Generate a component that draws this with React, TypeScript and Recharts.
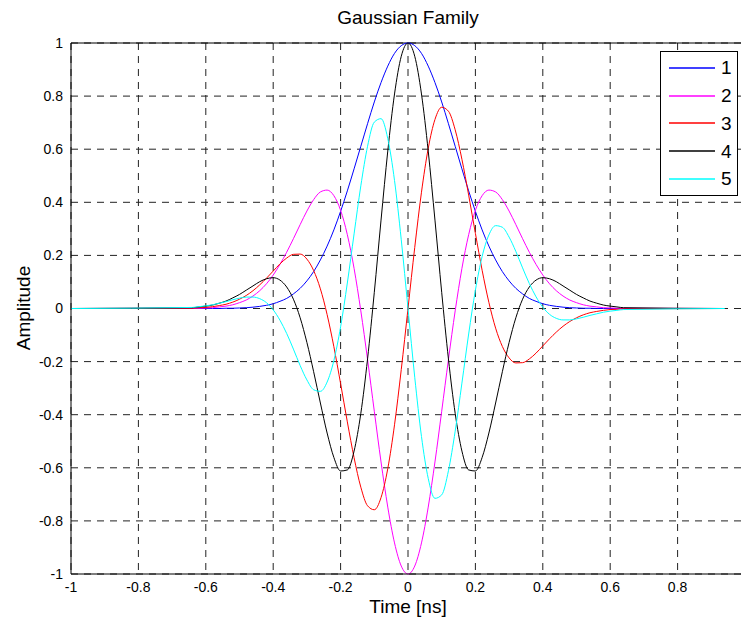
import { LineChart, Line, XAxis, YAxis, CartesianGrid, ReferenceLine } from "recharts";

/* ── time axis (ns) ── */
const time = [
  -1, -0.64, -0.62, -0.6, -0.58, -0.56, -0.54, -0.52, -0.5, -0.48, -0.46, -0.44, -0.42, -0.4, -0.38, -0.36, -0.34,
  -0.32, -0.3, -0.28, -0.26, -0.24, -0.22, -0.2, -0.18, -0.16, -0.14, -0.12, -0.1, -0.08, -0.06, -0.04, -0.02,
  0, 0.02, 0.04, 0.06, 0.08, 0.1, 0.12, 0.14, 0.16, 0.18, 0.2, 0.22, 0.24, 0.26, 0.28, 0.3, 0.32,
  0.34, 0.36, 0.38, 0.4, 0.42, 0.44, 0.46, 0.48, 0.5, 0.52, 0.54, 0.56, 0.58, 0.6, 0.62, 0.64, 0.94,
];

/* ── amplitudes, one array per curve ── */
const pulse1 = [
  0, 0, 0, 0, 0, 0, 0.001, 0.001, 0.002, 0.003, 0.005, 0.008, 0.012, 0.018, 0.027, 0.038, 0.055,
  0.076, 0.104, 0.139, 0.183, 0.235, 0.296, 0.366, 0.443, 0.526, 0.611, 0.696, 0.778, 0.851, 0.913, 0.961, 0.99,
  1, 0.99, 0.961, 0.913, 0.851, 0.778, 0.696, 0.611, 0.526, 0.443, 0.366, 0.296, 0.235, 0.183, 0.139, 0.104, 0.076,
  0.055, 0.038, 0.027, 0.018, 0.012, 0.008, 0.005, 0.003, 0.002, 0.001, 0.001, 0, 0, 0, 0, 0, 0,
];

const pulse2 = [
  0, 0.001, 0.001, 0.002, 0.003, 0.006, 0.009, 0.014, 0.022, 0.032, 0.047, 0.067, 0.093, 0.126, 0.166, 0.212, 0.263,
  0.316, 0.367, 0.41, 0.439, 0.446, 0.425, 0.37, 0.278, 0.151, -0.009, -0.192, -0.387, -0.578, -0.748, -0.883, -0.97,
  -1, -0.97, -0.883, -0.748, -0.578, -0.387, -0.192, -0.009, 0.151, 0.278, 0.37, 0.425, 0.446, 0.439, 0.41, 0.367, 0.316,
  0.263, 0.212, 0.166, 0.126, 0.093, 0.067, 0.047, 0.032, 0.022, 0.014, 0.009, 0.006, 0.003, 0.002, 0.001, 0.001, 0,
];

const pulse3 = [
  0, 0.001, 0.003, 0.004, 0.007, 0.011, 0.016, 0.024, 0.035, 0.049, 0.067, 0.089, 0.114, 0.141, 0.168, 0.19, 0.204,
  0.205, 0.186, 0.143, 0.074, -0.023, -0.144, -0.283, -0.427, -0.562, -0.673, -0.743, -0.758, -0.712, -0.603, -0.438, -0.23,
  0, 0.23, 0.438, 0.603, 0.712, 0.758, 0.743, 0.673, 0.562, 0.427, 0.283, 0.144, 0.023, -0.074, -0.143, -0.186, -0.205,
  -0.204, -0.19, -0.168, -0.141, -0.114, -0.089, -0.067, -0.049, -0.035, -0.024, -0.016, -0.011, -0.007, -0.004, -0.003, -0.001, 0,
];

const pulse4 = [
  0, 0.003, 0.006, 0.009, 0.013, 0.02, 0.028, 0.04, 0.053, 0.069, 0.085, 0.101, 0.112, 0.116, 0.107, 0.081, 0.035,
  -0.035, -0.128, -0.238, -0.356, -0.469, -0.561, -0.612, -0.608, -0.537, -0.395, -0.19, 0.061, 0.333, 0.593, 0.808, 0.95,
  1, 0.95, 0.808, 0.593, 0.333, 0.061, -0.19, -0.395, -0.537, -0.608, -0.612, -0.561, -0.469, -0.356, -0.238, -0.128, -0.035,
  0.035, 0.081, 0.107, 0.116, 0.112, 0.101, 0.085, 0.069, 0.053, 0.04, 0.028, 0.02, 0.013, 0.009, 0.006, 0.003, 0,
];

const pulse5 = [
  0, 0.004, 0.007, 0.01, 0.014, 0.02, 0.026, 0.033, 0.039, 0.043, 0.043, 0.037, 0.022, -0.005, -0.044, -0.094, -0.153,
  -0.215, -0.269, -0.306, -0.312, -0.277, -0.196, -0.069, 0.096, 0.281, 0.462, 0.611, 0.702, 0.715, 0.64, 0.482, 0.259,
  0, -0.259, -0.482, -0.64, -0.715, -0.702, -0.611, -0.462, -0.281, -0.096, 0.069, 0.196, 0.277, 0.312, 0.306, 0.269, 0.215,
  0.153, 0.094, 0.044, 0.005, -0.022, -0.037, -0.043, -0.043, -0.039, -0.033, -0.026, -0.02, -0.014, -0.01, -0.007, -0.004, 0,
];

const seriesNames = ["1", "2", "3", "4", "5"];
const seriesColors = ["#0000ff", "#ff00ff", "#ff0000", "#000000", "#00ffff"];
const xTicks = [-1, -0.8, -0.6, -0.4, -0.2, 0, 0.2, 0.4, 0.6, 0.8];
const yTicks = [-1, -0.8, -0.6, -0.4, -0.2, 0, 0.2, 0.4, 0.6, 0.8, 1];

const allSeries = [pulse1, pulse2, pulse3, pulse4, pulse5];
const data = time.map((t, i) => {
  const row: Record<string, number> = { t };
  allSeries.forEach((s, j) => {
    row[`s${j + 1}`] = s[i];
  });
  return row;
});

const FONT = '"Liberation Sans", Arial, Helvetica, sans-serif';

/* ── legend box like matlab's ── */
function LegendBox() {
  return (
    <div
      style={{
        position: "absolute",
        left: 660,
        top: 51,
        width: 78,
        height: 145,
        boxSizing: "border-box",
        border: "1px solid #000",
        background: "#fff",
        paddingTop: 2,
        fontFamily: FONT,
      }}
    >
      {seriesNames.map((name, i) => (
        <div key={name} style={{ height: 27.75, display: "flex", alignItems: "center" }}>
          <svg width={60} height={6} style={{ display: "block" }}>
            <line x1={8} x2={54} y1={3} y2={3} stroke={seriesColors[i]} strokeWidth={1.5} />
          </svg>
          <span style={{ fontSize: 19, color: "#000", lineHeight: 1 }}>{name}</span>
        </div>
      ))}
    </div>
  );
}

export default function App() {
  return (
    <div
      style={{
        position: "absolute",
        left: 0,
        top: 0,
        width: 741,
        height: 622,
        overflow: "hidden",
        background: "#fff",
        fontFamily: FONT,
      }}
    >
      <LineChart width={770} height={622} data={data} margin={{ top: 43, right: 25, bottom: 0, left: 0 }}>
        <CartesianGrid stroke="#222" strokeDasharray="7 6" />
        <XAxis
          type="number"
          dataKey="t"
          domain={[-1, 1]}
          ticks={xTicks}
          height={48}
          axisLine={{ stroke: "#000" }}
          tickLine={false}
          tick={{ fontSize: 14, fill: "#000", fontFamily: FONT }}
          tickFormatter={(v: number) => String(v)}
          allowDataOverflow
        />
        <YAxis
          type="number"
          domain={[-1, 1]}
          ticks={yTicks}
          width={71}
          axisLine={{ stroke: "#000" }}
          tickLine={false}
          tick={{ fontSize: 14, fill: "#000", fontFamily: FONT }}
          tickFormatter={(v: number) => String(v)}
        />
        <ReferenceLine y={1} stroke="#000" />
        <ReferenceLine x={1} stroke="#000" />
        {seriesNames.map((name, i) => (
          <Line
            key={name}
            name={name}
            dataKey={`s${i + 1}`}
            type="monotone"
            stroke={seriesColors[i]}
            strokeWidth={1}
            dot={false}
            activeDot={false}
            isAnimationActive={false}
          />
        ))}
      </LineChart>

      <LegendBox />

      {/* title and axis labels */}
      <div
        style={{
          position: "absolute",
          left: 208,
          width: 400,
          top: 7,
          textAlign: "center",
          fontSize: 19,
          lineHeight: "22px",
        }}
      >
        Gaussian Family
      </div>
      <div
        style={{
          position: "absolute",
          left: 208,
          width: 400,
          top: 596,
          textAlign: "center",
          fontSize: 19,
          lineHeight: "22px",
        }}
      >
        Time [ns]
      </div>
      <div
        style={{
          position: "absolute",
          left: 24 - 100,
          top: 308 - 11,
          width: 200,
          textAlign: "center",
          fontSize: 19,
          lineHeight: "22px",
          transform: "rotate(-90deg)",
        }}
      >
        Amplitude
      </div>
    </div>
  );
}
